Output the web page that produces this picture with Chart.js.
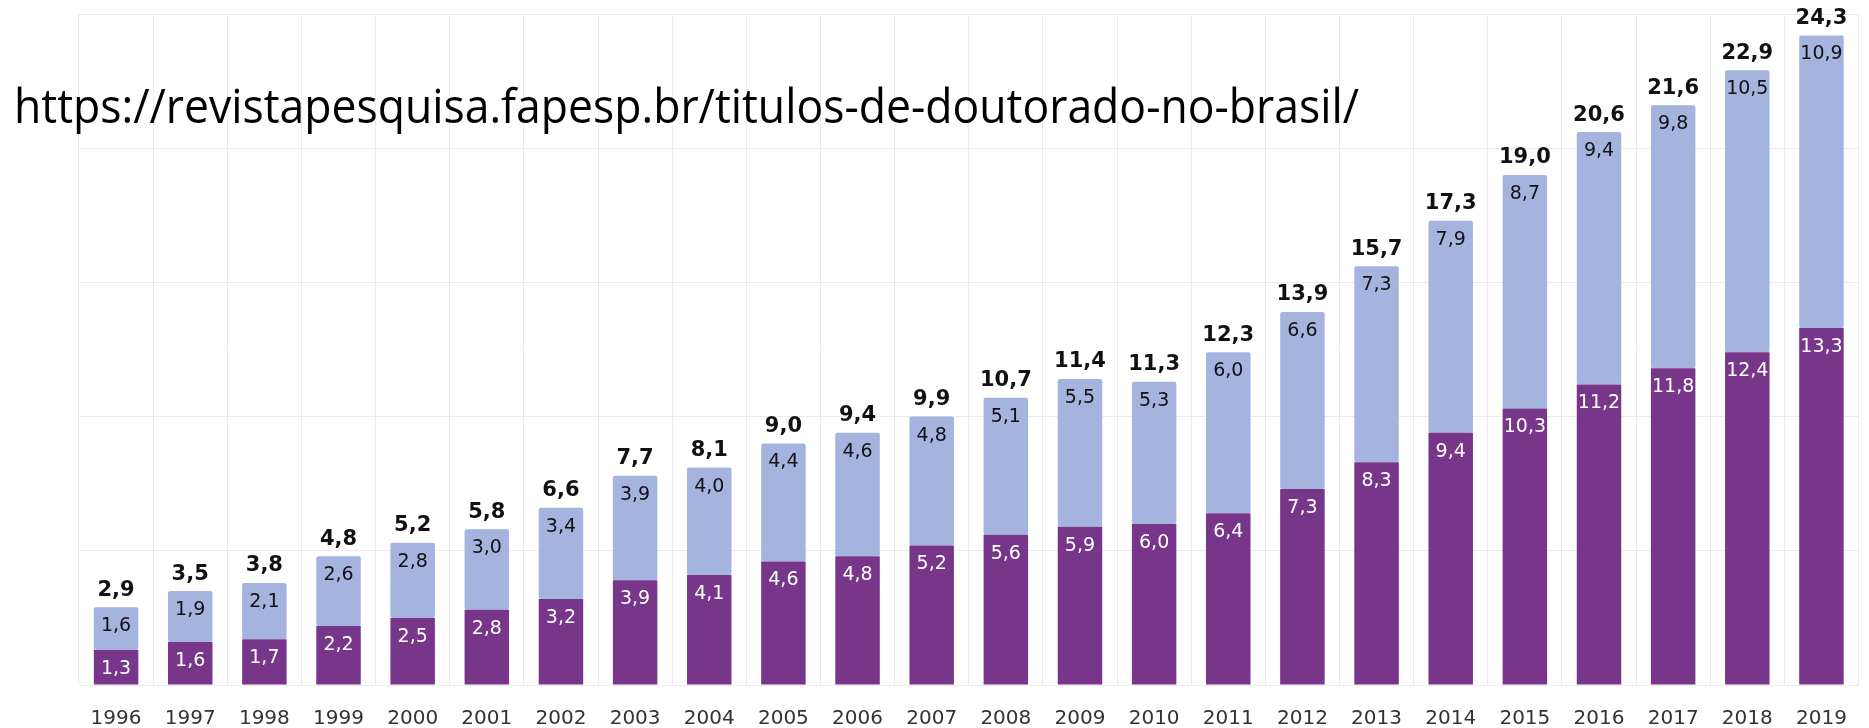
<!DOCTYPE html>
<html>
<head>
<meta charset="utf-8">
<script src="https://cdn.jsdelivr.net/npm/chart.js@4"></script>
<style>
html,body{margin:0;padding:0;background:#fff}
#wrap{width:1869px;height:728px;position:relative}
</style>
</head>
<body>
<div id="wrap"><canvas id="chart" width="1869" height="728"></canvas></div>
<script>
const years = ["1996","1997","1998","1999","2000","2001","2002","2003","2004","2005","2006","2007","2008","2009","2010","2011","2012","2013","2014","2015","2016","2017","2018","2019"]
const lower = [1.3,1.6,1.7,2.2,2.5,2.8,3.2,3.9,4.1,4.6,4.8,5.2,5.6,5.9,6.0,6.4,7.3,8.3,9.4,10.3,11.2,11.8,12.4,13.3]
const upper = [1.6,1.9,2.1,2.6,2.8,3.0,3.4,3.9,4.0,4.4,4.6,4.8,5.1,5.5,5.3,6.0,6.6,7.3,7.9,8.7,9.4,9.8,10.5,10.9]
const totals = [2.9,3.5,3.8,4.8,5.2,5.8,6.6,7.7,8.1,9.0,9.4,9.9,10.7,11.4,11.3,12.3,13.9,15.7,17.3,19.0,20.6,21.6,22.9,24.3]
const yTicks = [0,5,10,15,20,25]
const sourceText = "https://revistapesquisa.fapesp.br/titulos-de-doutorado-no-brasil/"

const PURPLE = "#77368a"
const LIGHT = "#a4b4df"
const fmt = v => v.toFixed(1).replace(".", ",")

// labels inside segments + totals above the stack
const labelPlugin = {
  id: "labels",
  afterDatasetsDraw(chart){
    const ctx = chart.ctx
    ctx.save()
    ctx.textAlign = "center"
    ctx.textBaseline = "middle"
    ctx.font = "19px 'DejaVu Sans'"
    chart.data.datasets.forEach((ds, di) => {
      const meta = chart.getDatasetMeta(di)
      ctx.fillStyle = di === 0 ? "#ffffff" : "#111111"
      meta.data.forEach((bar, i) => {
        ctx.fillText(fmt(ds.data[i]), bar.x, bar.y + 19)
      })
    })
    const top = chart.getDatasetMeta(1)
    ctx.font = "bold 21px 'DejaVu Sans'"
    ctx.fillStyle = "#111111"
    top.data.forEach((bar, i) => {
      ctx.fillText(fmt(totals[i]), bar.x, bar.y - 17)
    })
    ctx.restore()
  },
  afterDraw(chart){
    const ctx = chart.ctx
    ctx.save()
    ctx.font = "47px 'Open Sans'"
    ctx.fillStyle = "#000"
    ctx.textBaseline = "alphabetic"
    const w = ctx.measureText(sourceText).width
    ctx.translate(14, 123)
    ctx.scale(1345 / w, 1)
    ctx.fillText(sourceText, 0, 0)
    ctx.restore()
  }
}

new Chart(document.getElementById("chart"), {
  type: "bar",
  data: {
    labels: years,
    datasets: [
      {data: lower, backgroundColor: PURPLE, borderRadius: 2, borderSkipped: false},
      {data: upper, backgroundColor: LIGHT, borderRadius: 2, borderSkipped: false}
    ]
  },
  options: {
    responsive: false,
    animation: false,
    layout: {padding: {top: 14, right: 5, left: 0, bottom: 0}},
    plugins: {legend: {display: false}, tooltip: {enabled: false}},
    datasets: {bar: {categoryPercentage: 1, barPercentage: 0.6}},
    scales: {
      x: {
        stacked: true,
        grid: {color: "#ebebeb", drawTicks: false, offset: true},
        border: {color: "#ebebeb"},
        ticks: {color: "#333", font: {family: "'DejaVu Sans'", size: 20}, padding: 22, maxRotation: 0},
        afterFit(s){ s.height = 43 }
      },
      y: {
        stacked: true,
        min: 0, max: 25,
        afterBuildTicks(s){ s.ticks = yTicks.map(v => ({value: v})) },
        grid: {color: "#ebebeb", drawTicks: false},
        border: {display: false},
        ticks: {display: false},
        afterFit(s){ s.width = 79 }
      }
    }
  },
  plugins: [labelPlugin]
})
</script>
</body>
</html>
